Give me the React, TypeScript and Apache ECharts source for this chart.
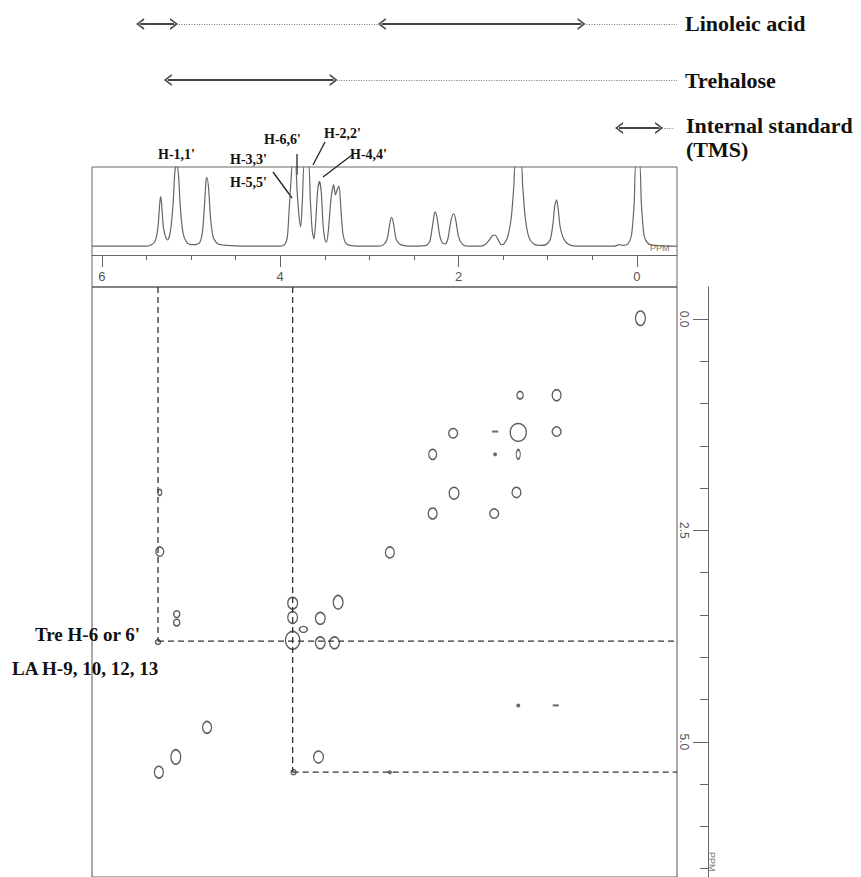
import React, { useEffect, useRef } from "react";
import * as echarts from "echarts";

// ---------------- data ----------------
// chemical-shift window shown (ppm), both dimensions
const X_RANGE = [-0.45, 6.11];
const Y_RANGE = [-0.38, 6.6];

// 1D 1H trace: [ppm, relative intensity]
const spectrum1D: number[][] = [
  [6.11, 0.01], [5.9, 0.01], [5.7, 0.01], [5.5, 0.01], [5.44, 0.03], [5.4, 0.08], [5.37, 0.25],
  [5.35, 0.55], [5.34, 0.63], [5.33, 0.55], [5.31, 0.25], [5.28, 0.11], [5.26, 0.09], [5.23, 0.2],
  [5.2, 0.55], [5.18, 0.95], [5.16, 1.04], [5.14, 0.9], [5.12, 0.5], [5.09, 0.18], [5.05, 0.06],
  [5.0, 0.03], [4.95, 0.03], [4.9, 0.06], [4.87, 0.2], [4.85, 0.5], [4.83, 0.85], [4.82, 0.87],
  [4.8, 0.7], [4.78, 0.35], [4.75, 0.12], [4.7, 0.04], [4.6, 0.02], [4.4, 0.01], [4.2, 0.01],
  [4.0, 0.01], [3.95, 0.03], [3.92, 0.12], [3.9, 0.45], [3.88, 0.8], [3.86, 1.04], [3.83, 1.04],
  [3.81, 0.7], [3.79, 0.4], [3.77, 0.25], [3.75, 0.6], [3.73, 1.04], [3.7, 1.04], [3.68, 1.04],
  [3.66, 0.55], [3.64, 0.2], [3.62, 0.1], [3.6, 0.35], [3.58, 0.7], [3.56, 0.82], [3.54, 0.7],
  [3.52, 0.3], [3.5, 0.1], [3.48, 0.06], [3.46, 0.2], [3.43, 0.6], [3.4, 0.78], [3.38, 0.65],
  [3.36, 0.72], [3.34, 0.76], [3.32, 0.5], [3.3, 0.2], [3.27, 0.06], [3.22, 0.02], [3.1, 0.01],
  [2.9, 0.01], [2.84, 0.03], [2.8, 0.1], [2.77, 0.3], [2.75, 0.37], [2.73, 0.3], [2.7, 0.1],
  [2.65, 0.03], [2.5, 0.01], [2.36, 0.02], [2.32, 0.08], [2.29, 0.28], [2.27, 0.42], [2.26, 0.44],
  [2.24, 0.36], [2.21, 0.14], [2.18, 0.05], [2.15, 0.04], [2.12, 0.1], [2.09, 0.3], [2.06, 0.41],
  [2.05, 0.41], [2.03, 0.33], [2.0, 0.13], [1.96, 0.04], [1.9, 0.01], [1.75, 0.01], [1.7, 0.03],
  [1.66, 0.08], [1.62, 0.14], [1.59, 0.15], [1.56, 0.1], [1.52, 0.03], [1.49, 0.04], [1.45, 0.12],
  [1.41, 0.35], [1.38, 0.75], [1.36, 1.04], [1.3, 1.04], [1.28, 0.75], [1.25, 0.35], [1.21, 0.12],
  [1.16, 0.04], [1.1, 0.02], [1.02, 0.03], [0.97, 0.1], [0.94, 0.3], [0.92, 0.52], [0.9, 0.59],
  [0.88, 0.45], [0.86, 0.25], [0.82, 0.1], [0.76, 0.03], [0.65, 0.01], [0.4, 0.01], [0.25, 0.01],
  [0.2, 0.03], [0.16, 0.02], [0.1, 0.04], [0.06, 0.15], [0.03, 0.55], [0.01, 1.04], [-0.03, 1.04],
  [-0.05, 0.55], [-0.08, 0.15], [-0.12, 0.05], [-0.2, 0.02], [-0.45, 0.01],
];

// 2D COSY contours: [F2 ppm, F1 ppm, extent F2 ppm, extent F1 ppm]
const contours: number[][] = [
  [-0.04, -0.01, 0.11, 0.17],
  [1.31, 0.9, 0.07, 0.09],
  [0.9, 0.9, 0.1, 0.13],
  [2.06, 1.35, 0.1, 0.11],
  [1.33, 1.34, 0.18, 0.21],
  [0.9, 1.33, 0.1, 0.11],
  [2.29, 1.6, 0.09, 0.12],
  [1.33, 1.6, 0.045, 0.11],
  [2.05, 2.06, 0.11, 0.14],
  [1.35, 2.05, 0.1, 0.12],
  [2.29, 2.3, 0.1, 0.13],
  [1.6, 2.3, 0.1, 0.11],
  [2.77, 2.76, 0.1, 0.13],
  [5.35, 2.05, 0.045, 0.07],
  [5.35, 2.75, 0.09, 0.11],
  [5.16, 3.49, 0.07, 0.08],
  [5.16, 3.59, 0.07, 0.08],
  [3.86, 3.36, 0.11, 0.14],
  [3.86, 3.53, 0.11, 0.14],
  [3.86, 3.8, 0.16, 0.21],
  [3.55, 3.54, 0.11, 0.14],
  [3.35, 3.35, 0.11, 0.16],
  [3.74, 3.67, 0.09, 0.07],
  [3.55, 3.83, 0.11, 0.14],
  [3.39, 3.83, 0.11, 0.14],
  [5.37, 3.82, 0.055, 0.06],
  [4.82, 4.83, 0.1, 0.14],
  [5.17, 5.18, 0.11, 0.17],
  [5.36, 5.36, 0.1, 0.14],
  [3.57, 5.18, 0.11, 0.14],
  [3.85, 5.36, 0.055, 0.06],
];
// weak cross peaks (filled dots)
const weakDots: number[][] = [
  [1.59, 1.6],
  [2.77, 5.36],
  [1.33, 4.57],
];
// weak cross peaks (short dashes)
const weakDashes: number[][] = [
  [1.59, 1.33],
  [0.91, 4.57],
];

// dashed guide lines: [F2 start, F1 start, F2 end, F1 end]
const guides: number[][] = [
  [5.37, -0.38, 5.37, 3.81],
  [5.37, 3.81, -0.45, 3.81],
  [3.86, -0.38, 3.86, 5.36],
  [3.86, 5.36, -0.45, 5.36],
];

// top assignment bars
const rowNames = ["Linoleic acid", "Trehalose", "Internal standard"];
const rowLevel = [24, 80, 128];
const arrowSegs: number[][] = [
  // [row, from ppm, to ppm]
  [0, 5.57, 5.19],
  [0, 2.86, 0.62],
  [1, 5.26, 3.4],
  [2, 0.2, -0.25],
];
const dottedSegs: number[][] = [
  [0, 5.19, 2.86],
  [0, 0.62, -0.45],
  [1, 3.4, -0.45],
  [2, -0.25, -0.42],
];

const ticks1D = [6, 5.5, 5, 4.5, 4, 3.5, 3, 2.5, 2, 1.5, 1, 0.5, 0];
const labels1D = [6, 4, 2, 0];
const ticks2D = [0, 0.5, 1, 1.5, 2, 2.5, 3, 3.5, 4, 4.5, 5, 5.5, 6, 6.5];
const labels2D = [0, 2.5, 5];

// ---------------- layout ----------------
const LEFT = 92;
const RIGHT = 184;
const PLOT_W = 861 - LEFT - RIGHT;
const TOP2D = 287;
const H2D = 590;
const PX_X = PLOT_W / (X_RANGE[1] - X_RANGE[0]);
const PX_Y = H2D / (Y_RANGE[1] - Y_RANGE[0]);

const ARROW = "path://M5,0 L10,10 L8.4,10 L5,3 L1.6,10 L0,10 Z";
const SERIF = "'Liberation Serif', 'Times New Roman', serif";
const SANS = "'Liberation Sans', Arial, sans-serif";

export default function App() {
  const ref = useRef<HTMLDivElement>(null);
  useEffect(() => {
    if (!ref.current) return;
    const chart = echarts.init(ref.current, undefined, { renderer: "svg" });

    const boldText = (text: string, x: number, y: number, size: number, align = "left") => ({
      type: "text",
      x,
      y,
      style: {
        text,
        font: `bold ${size}px ${SERIF}`,
        fill: "#111",
        textAlign: align,
        textVerticalAlign: "middle",
      },
    });
    const pointer = (x1: number, y1: number, x2: number, y2: number) => ({
      type: "line",
      shape: { x1, y1, x2, y2 },
      style: { stroke: "#222", lineWidth: 1.3 },
    });

    const option: any = {
      animation: false,
      backgroundColor: "#fff",
      grid: [
        { left: LEFT, right: RIGHT, top: 167, height: 120, show: true, borderColor: "#666", borderWidth: 1 },
        { left: LEFT, right: RIGHT, top: TOP2D, height: H2D, show: true, borderColor: "#555", borderWidth: 1 },
        { left: LEFT, right: RIGHT, top: 0, height: 170 },
      ],
      xAxis: [
        {
          gridIndex: 0, type: "value", inverse: true, min: X_RANGE[0], max: X_RANGE[1],
          position: "bottom", offset: -32,
          axisLine: { show: true, onZero: false, lineStyle: { color: "#666", width: 1 } },
          axisTick: { show: true, length: 5, customValues: ticks1D, lineStyle: { color: "#666" } },
          axisLabel: { show: false }, splitLine: { show: false },
        },
        {
          gridIndex: 0, type: "value", inverse: true, min: X_RANGE[0], max: X_RANGE[1],
          position: "bottom", offset: -32,
          axisLine: { show: false, onZero: false },
          axisTick: { show: true, length: 12, customValues: labels1D, lineStyle: { color: "#666" } },
          axisLabel: { show: true, customValues: labels1D, margin: 15, fontSize: 13, color: "#555", fontFamily: SANS },
          splitLine: { show: false },
        },
        { gridIndex: 1, type: "value", inverse: true, min: X_RANGE[0], max: X_RANGE[1], show: false },
        { gridIndex: 2, type: "value", inverse: true, min: X_RANGE[0], max: X_RANGE[1], show: false },
      ],
      yAxis: [
        { gridIndex: 0, type: "value", min: -0.5, max: 1, show: false },
        {
          gridIndex: 1, type: "value", inverse: true, min: Y_RANGE[0], max: Y_RANGE[1], position: "right", offset: 31,
          axisLine: { show: true, onZero: false, lineStyle: { color: "#666", width: 1 } },
          axisTick: { show: true, inside: true, length: 8, customValues: ticks2D, lineStyle: { color: "#666" } },
          axisLabel: { show: false }, splitLine: { show: false },
        },
        {
          gridIndex: 1, type: "value", inverse: true, min: Y_RANGE[0], max: Y_RANGE[1], position: "right", offset: 31,
          axisLine: { show: false, onZero: false },
          axisTick: { show: true, inside: true, length: 15, customValues: labels2D, lineStyle: { color: "#666" } },
          axisLabel: {
            show: true, inside: true, customValues: labels2D, rotate: -90, margin: 18,
            fontSize: 12, color: "#555", fontFamily: SANS,
            formatter: (v: number) => v.toFixed(1),
          },
          splitLine: { show: false },
        },
        { gridIndex: 2, type: "value", inverse: true, min: 0, max: 170, show: false },
      ],
      series: [
        {
          type: "line", xAxisIndex: 0, yAxisIndex: 0, data: spectrum1D, showSymbol: false, smooth: 0.25,
          lineStyle: { color: "#666", width: 1.2 }, clip: true,
        },
        {
          type: "scatter", xAxisIndex: 2, yAxisIndex: 1, data: contours, symbol: "circle",
          symbolSize: (v: number[]) => [v[2] * PX_X, v[3] * PX_Y],
          itemStyle: { color: "rgba(0,0,0,0)", borderColor: "#333", borderWidth: 1.4 },
        },
        {
          type: "scatter", xAxisIndex: 2, yAxisIndex: 1, data: weakDots, symbol: "circle", symbolSize: 4,
          itemStyle: { color: "#444" },
        },
        {
          type: "scatter", xAxisIndex: 2, yAxisIndex: 1, data: weakDashes, symbol: "rect", symbolSize: [6, 2],
          itemStyle: { color: "#444" },
        },
        ...guides.map((g) => ({
          type: "line", xAxisIndex: 2, yAxisIndex: 1, showSymbol: false,
          data: [[g[0], g[1]], [g[2], g[3]]],
          lineStyle: { color: "#333", width: 1.3, type: [6, 4] },
        })),
        {
          type: "line", xAxisIndex: 3, yAxisIndex: 3, data: [],
          markLine: {
            silent: true, symbol: [ARROW, ARROW], symbolSize: [12, 8],
            label: { show: false },
            lineStyle: { color: "#444", width: 1.8, type: "solid" },
            itemStyle: { color: "#444" },
            data: arrowSegs.map((s) => [
              { coord: [s[1], rowLevel[s[0]]] },
              { coord: [s[2], rowLevel[s[0]]] },
            ]),
          },
        },
        {
          type: "line", xAxisIndex: 3, yAxisIndex: 3, data: [],
          markLine: {
            silent: true, symbol: ["none", "none"],
            label: { show: false },
            lineStyle: { color: "#777", width: 1, type: [1, 1.5] },
            data: dottedSegs.map((s) => [
              { coord: [s[1], rowLevel[s[0]]] },
              { coord: [s[2], rowLevel[s[0]]] },
            ]),
          },
        },
      ],
      graphic: [
        boldText(rowNames[0], 685, 23, 22),
        boldText(rowNames[1], 685, 80, 22),
        boldText(rowNames[2], 686, 125, 22),
        boldText("(TMS)", 686, 149, 22),
        boldText("H-1,1'", 158, 154, 14),
        boldText("H-6,6'", 264, 139, 14),
        boldText("H-2,2'", 324, 133, 14),
        boldText("H-4,4'", 350, 154, 14),
        boldText("H-3,3'", 230, 159, 14),
        boldText("H-5,5'", 230, 182, 14),
        pointer(297, 154, 297, 175),
        pointer(325, 142, 313, 165),
        pointer(352, 155, 323, 177),
        pointer(273, 172, 292, 198),
        boldText("Tre H-6 or 6'", 35, 634, 19),
        boldText("LA H-9, 10, 12, 13", 12, 668, 19),
        {
          type: "text", x: 650, y: 248,
          style: { text: "PPM", font: `9px ${SANS}`, fill: "#777", textVerticalAlign: "middle" },
        },
        {
          type: "text", x: 712, y: 852, rotation: -Math.PI / 2,
          style: { text: "PPM", font: `9px ${SANS}`, fill: "#777", textVerticalAlign: "middle" },
        },
      ],
    };
    chart.setOption(option);
    return () => chart.dispose();
  }, []);

  return (
    <div
      ref={ref}
      style={{ position: "absolute", left: 0, top: 0, width: 861, height: 877, background: "#fff" }}
    />
  );
}
